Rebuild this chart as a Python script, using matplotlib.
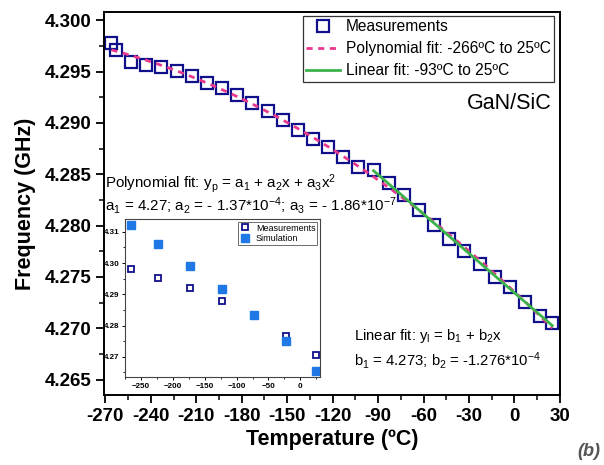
import numpy as np
import matplotlib
matplotlib.use("Agg")
import matplotlib.pyplot as plt
from matplotlib.ticker import AutoMinorLocator

plt.rcParams['font.family'] = ['Liberation Sans', 'DejaVu Sans']
plt.rcParams['mathtext.fontset'] = 'custom'
plt.rcParams['mathtext.rm'] = 'Liberation Sans'
plt.rcParams['mathtext.it'] = 'Liberation Sans:italic'

# ---- data ----
temp_meas = [-266, -263, -253, -243, -233, -223, -213, -203, -193, -183, -173,
             -163, -153, -143, -133, -123, -113, -103, -93, -83, -73, -63,
             -53, -43, -33, -23, -13, -3, 7, 17, 25]
freq_meas = [4.2978, 4.29715, 4.29595, 4.29568, 4.29542, 4.29503, 4.29455,
             4.29393, 4.29342, 4.29269, 4.29193, 4.29114, 4.29026, 4.28935,
             4.28848, 4.28767, 4.28667, 4.28567, 4.28546, 4.28416, 4.28302,
             4.28153, 4.28002, 4.27872, 4.27750, 4.27630, 4.27503, 4.27399,
             4.27260, 4.27117, 4.27055]
lin_start = -93

inset_temp_meas = [-266, -223, -173, -123, -23, 25]
inset_freq_meas = [4.2980, 4.2951, 4.2921, 4.2878, 4.2766, 4.2705]
inset_temp_sim = [-266, -223, -173, -123, -73, -23, 25]
inset_freq_sim = [4.3121, 4.3061, 4.2991, 4.2917, 4.2833, 4.2751, 4.2654]

xticks = [-270, -240, -210, -180, -150, -120, -90, -60, -30, 0, 30]
yticks = [4.265, 4.270, 4.275, 4.280, 4.285, 4.290, 4.295, 4.300]
inset_xticks = [-250, -200, -150, -100, -50, 0]
inset_yticks = [4.27, 4.28, 4.29, 4.30, 4.31]

NAVY = '#10108a'
PINK = '#e8388f'
GREEN = '#3cb34a'
BLUE = '#1f78e6'

fig = plt.figure(figsize=(6.04, 4.65), dpi=100)
ax = fig.add_axes([0.172, 0.1505, 0.755, 0.8235])

t = np.array(temp_meas, dtype=float)
f = np.array(freq_meas, dtype=float)

# fits computed from the data
pcoef = np.polyfit(t, f, 2)
tp = np.linspace(t.min(), t.max(), 200)
mask = t >= lin_start
lcoef = np.polyfit(t[mask], f[mask], 1)
tl = np.array([t[mask].min(), t[mask].max()])

ax.plot(t, f, linestyle='none', marker='s', markersize=9.2, markerfacecolor='none',
        markeredgecolor=NAVY, markeredgewidth=1.6, label='Measurements', zorder=2)
ax.plot(tp, np.polyval(pcoef, tp), color=PINK, linestyle=(0, (2.2, 2.0)), lw=2,
        label='Polynomial fit: -266ºC to 25ºC', zorder=3)
ax.plot(tl, np.polyval(lcoef, tl), color=GREEN, lw=2,
        label='Linear fit: -93ºC to 25ºC', zorder=4)

ax.set_xlim(-271, 30)
ax.set_ylim(4.2635, 4.3008)
ax.set_xticks(xticks)
ax.set_yticks(yticks)
ax.set_xticklabels([str(v) for v in xticks])
ax.set_yticklabels(['%.3f' % v for v in yticks])
ax.xaxis.set_minor_locator(AutoMinorLocator(2))
ax.yaxis.set_minor_locator(AutoMinorLocator(2))
ax.tick_params(which='major', direction='out', length=6, width=1.3, labelsize=13.5, pad=3)
ax.tick_params(which='minor', direction='out', length=3.5, width=1.1)
for lab in ax.get_xticklabels() + ax.get_yticklabels():
    lab.set_fontweight('bold')
for sp in ax.spines.values():
    sp.set_linewidth(1.4)

ax.set_xlabel('Temperature (ºC)', fontsize=15.5, fontweight='bold', labelpad=3)
ax.set_ylabel('Frequency (GHz)', fontsize=15.5, fontweight='bold', labelpad=6)

leg = ax.legend(loc='upper right', bbox_to_anchor=(0.993, 0.997), fontsize=11.2,
                frameon=True, fancybox=False, edgecolor='#333333', framealpha=1,
                handlelength=2.2, handletextpad=0.35, borderpad=0.2, labelspacing=0.45,
                borderaxespad=0.2)
leg.get_frame().set_linewidth(0.9)

ax.text(0.982, 0.76, 'GaN/SiC', transform=ax.transAxes, ha='right', va='center', fontsize=15.5)

ax.text(0.002, 0.553, r'Polynomial fit: $\mathregular{y_p}$ = $\mathregular{a_1}$ + $\mathregular{a_2}$x + $\mathregular{a_3}$$\mathregular{x^2}$',
        transform=ax.transAxes, ha='left', va='center', fontsize=10.9)
ax.text(0.002, 0.496, r'$\mathregular{a_1}$ = 4.27; $\mathregular{a_2}$ = - 1.37*$\mathregular{10^{-4}}$; $\mathregular{a_3}$ = - 1.86*$\mathregular{10^{-7}}$',
        transform=ax.transAxes, ha='left', va='center', fontsize=10.9)
ax.text(0.548, 0.154, r'Linear fit: $\mathregular{y_l}$ = $\mathregular{b_1}$ + $\mathregular{b_2}$x',
        transform=ax.transAxes, ha='left', va='center', fontsize=10.7)
ax.text(0.548, 0.091, r'$\mathregular{b_1}$ = 4.273; $\mathregular{b_2}$ = -1.276*$\mathregular{10^{-4}}$',
        transform=ax.transAxes, ha='left', va='center', fontsize=10.7)

# ---- inset ----
ins = fig.add_axes([0.207, 0.189, 0.323, 0.340])
ins.plot(inset_temp_meas, inset_freq_meas, linestyle='none', marker='s', markersize=4.5,
         markerfacecolor='white', markeredgecolor=NAVY, markeredgewidth=1.3, label='Measurements')
ins.plot(inset_temp_sim, inset_freq_sim, linestyle='none', marker='s', markersize=5.5,
         markerfacecolor=BLUE, markeredgecolor=BLUE, label='Simulation')
ins.set_xlim(-275, 31)
ins.set_ylim(4.2635, 4.3141)
ins.set_xticks(inset_xticks)
ins.set_yticks(inset_yticks)
ins.set_yticklabels(['%.2f' % v for v in inset_yticks])
ins.xaxis.set_minor_locator(AutoMinorLocator(2))
ins.yaxis.set_minor_locator(AutoMinorLocator(2))
ins.tick_params(which='major', direction='out', length=2.5, width=0.7, labelsize=5.8, pad=1.5)
ins.tick_params(which='minor', direction='out', length=1.5, width=0.6)
for lab in ins.get_xticklabels() + ins.get_yticklabels():
    lab.set_fontweight('bold')
for sp in ins.spines.values():
    sp.set_linewidth(0.8)
    sp.set_color('#444444')
ileg = ins.legend(loc='upper right', fontsize=6.5, frameon=True, fancybox=False,
                  edgecolor='#555555', framealpha=1, handlelength=1.2, handletextpad=0.6,
                  borderpad=0.2, labelspacing=0.2, borderaxespad=0.3)
ileg.get_frame().set_linewidth(0.6)

fig.text(0.994, 0.028, '(b)', ha='right', va='center', fontsize=13, fontweight='bold',
         fontstyle='italic', color='#555555')

fig.savefig('out.png', dpi=100)
